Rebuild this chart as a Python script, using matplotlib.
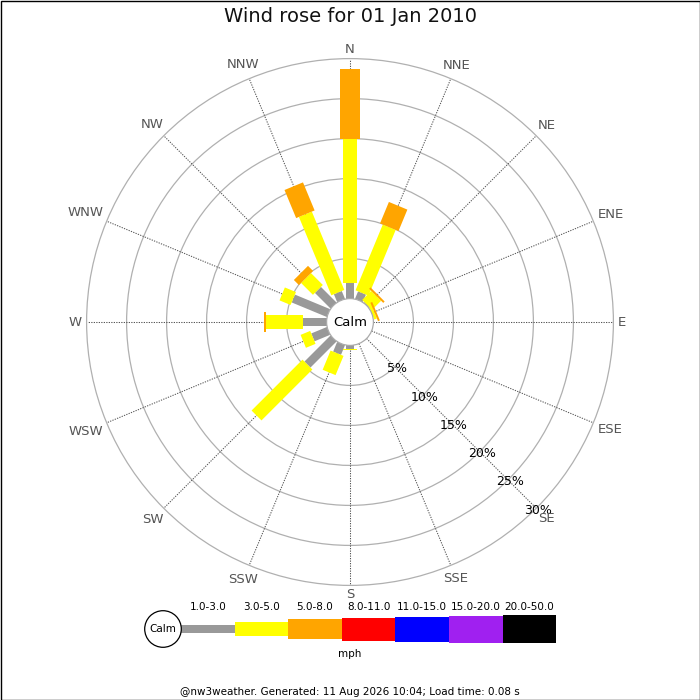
import numpy as np
import matplotlib
matplotlib.use("Agg")
import matplotlib.pyplot as plt
from matplotlib.patches import Rectangle, Circle

# ---------------- data ----------------
directions = ['N', 'NNE', 'NE', 'ENE', 'E', 'ESE', 'SE', 'SSE',
              'S', 'SSW', 'SW', 'WSW', 'W', 'WNW', 'NW', 'NNW']
speed_bins = ['1.0-3.0', '3.0-5.0', '5.0-8.0', '8.0-11.0',
              '11.0-15.0', '15.0-20.0', '20.0-50.0']
# percentage of time per direction for each speed bin (mph)
pct_1_3 = [2.0, 1.0, 0.1, 0.0, 0.0, 0.0, 0.0, 0.0,
           0.4, 1.3, 4.6, 2.1, 3.0, 4.75, 2.75, 1.05]
pct_3_5 = [17.9, 8.9, 1.6, 0.35, 0.0, 0.0, 0.0, 0.0,
           0.15, 2.6, 9.0, 1.3, 4.6, 1.5, 2.1, 10.6]
pct_5_8 = [8.8, 2.9, 0.25, 0.25, 0.0, 0.0, 0.0, 0.0,
           0.0, 0.0, 0.0, 0.0, 0.2, 0.0, 0.9, 3.8]
pct_8_11 = [0.0] * 16
pct_11_15 = [0.0] * 16
pct_15_20 = [0.0] * 16
pct_20_50 = [0.0] * 16
ring_pcts = [5, 10, 15, 20, 25, 30]
title = 'Wind rose for 01 Jan 2010'
footer = '@nw3weather. Generated: 11 Aug 2026 10:04; Load time: 0.08 s'
unit_label = 'mph'

# ---------------- style ----------------
colors = ['#999999', '#ffff00', '#ffa500', '#ff0000', '#0000ff', '#a020f0', '#000000']
bar_w_px = [8.5, 14, 20, 23, 25, 27, 28.5]
PX = 8.0            # pixels per percent
CALM_PX = 23.4      # calm circle radius in px
cx_px, cy_px = 350, 322

fig = plt.figure(figsize=(7, 7), dpi=100)
fig.patch.set_facecolor('white')

# overlay axes in pixel coordinates (for title/legend/footer/border)
ov = fig.add_axes([0, 0, 1, 1], zorder=5)
ov.set_xlim(0, 700)
ov.set_ylim(700, 0)
ov.axis('off')
ov.patch.set_alpha(0)

# rose axes: data units = percent, 8 px per unit, centred at (350,322)
half = 300
ax = fig.add_axes([(cx_px - half) / 700, (700 - cy_px - half) / 700,
                   2 * half / 700, 2 * half / 700])
lim = half / PX
ax.set_xlim(-lim, lim)
ax.set_ylim(-lim, lim)
ax.set_aspect('equal')
ax.axis('off')

calm_r = CALM_PX / PX
outer_r = calm_r + ring_pcts[-1]

# rings
for p in ring_pcts:
    ax.add_patch(Circle((0, 0), calm_r + p, fill=False, ec='#b0b0b0', lw=0.9, zorder=1))

# spokes
angles = np.deg2rad(np.arange(16) * 22.5)
for a in angles:
    ux, uy = np.sin(a), np.cos(a)
    ax.plot([calm_r * ux, outer_r * ux], [calm_r * uy, outer_r * uy],
            color='#555555', lw=0.75, ls=(0, (1.2, 1.2)), zorder=1)

# bars
series = [pct_1_3, pct_3_5, pct_5_8, pct_8_11, pct_11_15, pct_15_20, pct_20_50]
for i, a in enumerate(angles):
    ux, uy = np.sin(a), np.cos(a)
    nx, ny = -uy, ux
    phi = 90 - np.rad2deg(a)
    r0 = calm_r
    for k, s in enumerate(series):
        v = s[i]
        if v <= 0:
            continue
        w = bar_w_px[k] / PX
        x0 = r0 * ux - w / 2 * nx
        y0 = r0 * uy - w / 2 * ny
        ax.add_patch(Rectangle((x0, y0), v, w, angle=phi, rotation_point='xy',
                               fc=colors[k], ec='none', zorder=2 + k * 0.01))
        r0 += v

# calm circle
ax.add_patch(Circle((0, 0), calm_r, fc='white', ec='#aaaaaa', lw=0.9, zorder=4))
ax.text(0, 0, 'Calm', ha='center', va='center', fontsize=9.5, color='black', zorder=5)

# percent labels along SE
se = np.deg2rad(135)
for p in ring_pcts:
    r = calm_r + p + 0.35
    ax.text(r * np.sin(se), r * np.cos(se), f'{p}%', ha='center', va='center',
            fontsize=9, color='black', zorder=5)

# direction labels
fig.canvas.draw()
renderer = fig.canvas.get_renderer()
for d, a in zip(directions, angles):
    t = ax.text(0, 0, d, ha='center', va='center', fontsize=9.5, color='#555555', zorder=5)
    bb = t.get_window_extent(renderer)
    w_px, h_px = bb.width, bb.height * 0.75
    r_px = 263 + 5 + (w_px / 2) * abs(np.sin(a)) + (h_px / 2) * abs(np.cos(a))
    r = r_px / PX
    t.set_position((r * np.sin(a), r * np.cos(a)))

# title
ov.text(350, 17, title, ha='center', va='center', fontsize=14, color='#111111')

# legend
leg_x0 = 181
seg = 53.6
leg_y = 629
ov.add_patch(Circle((163, leg_y), 18.3, fc='white', ec='black', lw=0.9, zorder=6))
ov.text(163, leg_y + 0.5, 'Calm', ha='center', va='center', fontsize=7.5, zorder=7)
for k, (lab, c) in enumerate(zip(speed_bins, colors)):
    h = bar_w_px[k]
    ov.add_patch(Rectangle((leg_x0 + k * seg, leg_y - h / 2), seg, h, fc=c, ec='none', zorder=5))
    ov.text(leg_x0 + k * seg + seg / 2, 607, lab, ha='center', va='center', fontsize=7.5)
ov.text(350, 654, unit_label, ha='center', va='center', fontsize=7.5)

# footer
ov.text(350, 692, footer, ha='center', va='center', fontsize=7.5)

# border
ov.add_patch(Rectangle((0.5, 0.5), 699, 699, fill=False, ec='black', lw=1.0, zorder=10))

fig.savefig('out.png', dpi=100, facecolor='white')
